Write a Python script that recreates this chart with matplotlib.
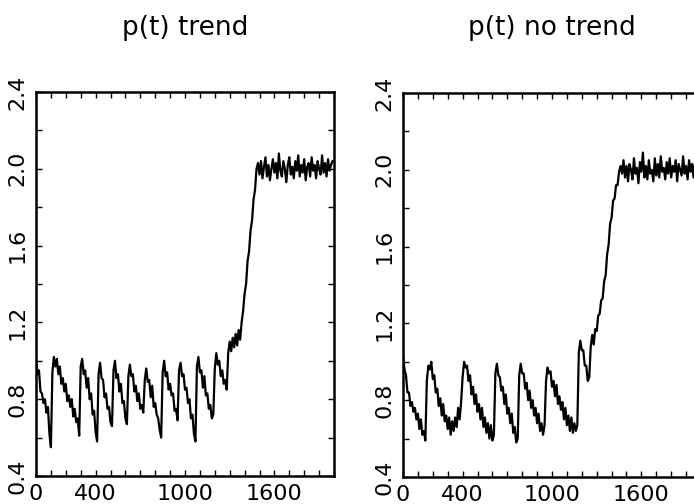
import numpy as np
import matplotlib
matplotlib.use("Agg")
import matplotlib.pyplot as plt

dt = 10
trend_vals = [
    1.02, 0.93, 0.95, 0.84, 0.83, 0.78, 0.80, 0.73, 0.76, 0.62, 0.55,
    0.94, 1.02, 0.97, 1.01, 0.93, 0.97, 0.88, 0.91, 0.84, 0.88, 0.79, 0.82, 0.76, 0.80, 0.71, 0.75, 0.68, 0.70, 0.61,
    0.97, 1.01, 0.93, 0.95, 0.86, 0.91, 0.80, 0.83, 0.72, 0.74, 0.63, 0.58,
    0.93, 0.99, 0.91, 0.90, 0.81, 0.83, 0.75, 0.76, 0.68, 0.66,
    0.95, 1.00, 0.91, 0.93, 0.84, 0.88, 0.78, 0.79, 0.70, 0.67,
    0.92, 0.98, 0.92, 0.93, 0.84, 0.87, 0.79, 0.83, 0.75, 0.77, 0.73,
    0.90, 0.96, 0.89, 0.90, 0.81, 0.87, 0.76, 0.78, 0.72, 0.70, 0.64, 0.60,
    0.94, 1.00, 0.92, 0.94, 0.85, 0.88, 0.82, 0.83, 0.74, 0.75, 0.69,
    0.95, 0.99, 0.92, 0.93, 0.85, 0.86, 0.78, 0.80, 0.70, 0.72, 0.62, 0.58,
    0.97, 1.02, 0.94, 0.95, 0.86, 0.92, 0.82, 0.83, 0.75, 0.77, 0.70, 0.72,
    0.96, 1.04, 0.98, 1.00, 0.92, 0.95, 0.88, 0.90, 0.85,
    1.04, 1.10, 1.05, 1.12, 1.07, 1.14, 1.08, 1.16, 1.11, 1.20, 1.26, 1.35, 1.40, 1.52, 1.57, 1.68, 1.73, 1.84, 1.89, 2.00, 2.03,
    1.97, 2.04, 1.95, 2.01, 2.06, 1.96, 2.02, 1.94, 2.00, 2.05,
    1.98, 2.03, 1.95, 2.08, 1.99, 1.96, 2.04, 2.00, 1.93, 2.02,
    2.06, 1.97, 2.01, 1.95, 2.04, 1.99, 2.07, 1.96, 2.02, 1.98,
    2.05, 1.94, 2.01, 2.03, 1.96, 2.06, 1.99, 2.02, 1.95, 2.04,
    2.00, 1.97, 2.07, 1.98, 2.03, 1.96, 2.05, 1.99, 2.02, 2.04,
]
notrend_vals = [
    1.03, 0.96, 0.93, 0.84, 0.84, 0.77, 0.79, 0.74, 0.76, 0.70, 0.73, 0.65, 0.70, 0.62, 0.64, 0.59,
    0.90, 0.98, 0.96, 1.00, 0.91, 0.93, 0.84, 0.86, 0.77, 0.81, 0.72, 0.78, 0.69, 0.72, 0.65, 0.71, 0.62, 0.69, 0.64, 0.71, 0.66, 0.76, 0.70, 0.79,
    0.92, 1.00, 0.97, 0.98, 0.90, 0.93, 0.83, 0.87, 0.78, 0.83, 0.74, 0.78, 0.70, 0.76, 0.66, 0.71, 0.63, 0.68, 0.60, 0.67, 0.59, 0.62,
    0.94, 0.99, 0.93, 0.92, 0.85, 0.87, 0.78, 0.83, 0.73, 0.76, 0.68, 0.73, 0.63, 0.66, 0.58, 0.60,
    0.93, 0.99, 0.94, 0.94, 0.86, 0.89, 0.80, 0.85, 0.76, 0.80, 0.72, 0.76, 0.68, 0.73, 0.64, 0.68, 0.62, 0.67,
    0.90, 0.97, 0.94, 0.95, 0.87, 0.90, 0.82, 0.88, 0.78, 0.82, 0.75, 0.79, 0.70, 0.76, 0.67, 0.72, 0.64, 0.71, 0.63, 0.68, 0.64, 0.67,
    1.05, 1.11, 1.06, 1.06, 0.98, 0.98, 0.90, 0.92, 1.08, 1.14, 1.09, 1.17, 1.16, 1.24, 1.25, 1.32, 1.33, 1.42, 1.45, 1.56,
    1.61, 1.72, 1.75, 1.84, 1.85, 1.92, 1.92, 1.99, 2.02,
    1.98, 2.05, 1.96, 2.02, 1.94, 2.03, 2.00, 1.95, 2.06, 1.98,
    2.01, 1.93, 2.04, 1.99, 2.09, 1.96, 2.02, 1.95, 2.05, 1.98,
    2.00, 1.94, 2.06, 1.97, 2.03, 1.96, 2.07, 1.99, 2.01, 1.95,
    2.04, 1.98, 2.06, 1.96, 2.02, 1.99, 2.05, 1.94, 2.03, 2.00,
    1.97, 2.07, 1.98, 2.02, 1.95, 2.05, 1.99, 2.03, 1.96, 2.04,
    2.01, 1.97, 2.03,
]
titles = ["p(t) trend", "p(t) no trend"]
xtick_labels = {0: "0", 400: "400", 1000: "1000", 1600: "1600"}
ytick_labels = {0.4: "0.4", 0.8: "0.8", 1.2: "1.2", 1.6: "1.6", 2.0: "2.0", 2.4: "2.4"}

W, H = 694, 504
fig = plt.figure(figsize=(W / 100, H / 100), dpi=100)
boxes = [(36, 92, 298, 384), (403, 93, 298, 384)]  # left, top, width, height in px

for (lx, ty, w, h), vals, title in zip(boxes, [trend_vals, notrend_vals], titles):
    ax = fig.add_axes([lx / W, 1 - (ty + h) / H, w / W, h / H])
    t = np.arange(len(vals)) * dt
    ax.plot(t, vals, color="black", lw=1.6)
    ax.set_xlim(0, 2000)
    ax.set_ylim(0.4, 2.4)

    xt = np.arange(0, 2001, 100)
    ax.set_xticks(xt)
    ax.set_xticklabels([xtick_labels.get(int(v), "") for v in xt])
    yt = np.round(np.arange(0.4, 2.41, 0.2), 1)
    ax.set_yticks(yt)
    ax.set_yticklabels([ytick_labels.get(float(v), "") for v in yt],
                       rotation=90, va="center")
    ax.tick_params(direction="in", length=4, width=1, top=True, right=True,
                   labelsize=16, pad=6)
    for s in ax.spines.values():
        s.set_linewidth(1.8)
    fig.text((lx + w / 2) / W, 1 - 28 / H, title, ha="center", va="center",
             fontsize=19)

fig.savefig("out.png", dpi=100)
